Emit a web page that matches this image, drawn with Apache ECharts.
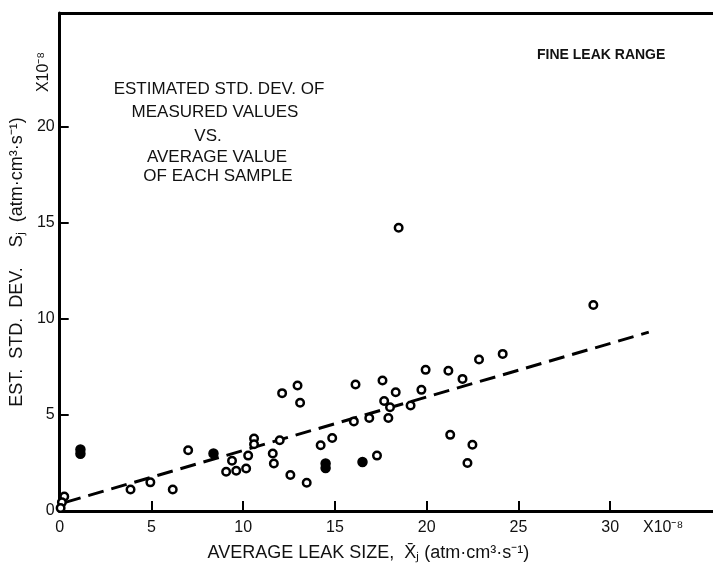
<!DOCTYPE html>
<html>
<head>
<meta charset="utf-8">
<script src="https://cdn.jsdelivr.net/npm/echarts@6/dist/echarts.min.js"></script>
<style>html,body{margin:0;padding:0;background:#fff}#c{width:713px;height:569px}</style>
</head>
<body>
<div id="c"></div>
<script>
// ---- data ----
var xTickValues = [5, 10, 15, 20, 25, 30];
var xLabelValues = [0, 5, 10, 15, 20, 25, 30];
var yTickValues = [5, 10, 15, 20];
var yLabelValues = [0, 5, 10, 15, 20];

var openX = [0.25, 0.12, 0.05, 3.86, 4.94, 6.16, 7.0, 9.07, 9.39, 9.62, 10.16, 10.27, 10.59, 10.59,
  12.12, 11.99, 11.61, 11.67, 12.57, 12.96, 13.1, 13.46, 14.22, 14.85, 16.03, 16.12,
  18.47, 29.08, 24.14, 22.85, 19.94, 21.18, 21.95, 19.71, 17.59, 18.31, 17.68, 18.0, 19.12,
  17.91, 16.87, 21.28, 22.49, 22.22, 17.29];
var openY = [0.75, 0.45, 0.15, 1.12, 1.49, 1.12, 3.16, 2.04, 2.61, 2.09, 2.21, 2.88, 3.77, 3.47,
  6.13, 3.68, 2.99, 2.47, 1.87, 6.53, 5.63, 1.47, 3.42, 3.8, 4.66, 6.58,
  14.73, 10.71, 8.17, 7.88, 7.34, 7.29, 6.87, 6.3, 6.79, 6.18, 5.72, 5.4, 5.49,
  4.84, 4.84, 3.96, 3.45, 2.5, 2.88];

var filledX = [1.13, 1.13, 8.38, 14.49, 14.49, 16.5];
var filledY = [3.2, 2.98, 2.99, 2.47, 2.23, 2.55];

var fitX = [0.3, 32.1];
var fitY = [0.45, 9.3];

function pairs(xs, ys) { return xs.map(function (x, i) { return [x, ys[i]]; }); }

var FONT = "'Liberation Sans', Arial, sans-serif";
var INK = '#111';

var chart = echarts.init(document.getElementById('c'), null, {renderer: 'canvas'});

var titleLines = [
  ['ESTIMATED STD. DEV. OF', 219, 89],
  ['MEASURED VALUES', 215, 112],
  ['VS.', 208, 136],
  ['AVERAGE VALUE', 217, 157],
  ['OF EACH SAMPLE', 218, 176]
];
var graphics = titleLines.map(function (l) {
  return {type: 'text', x: l[1], y: l[2], style: {text: l[0], font: '17px ' + FONT, fill: INK, align: 'center', verticalAlign: 'middle'}};
});
graphics.push({type: 'text', x: 537, y: 55, style: {text: 'FINE LEAK RANGE', font: 'bold 14px ' + FONT, fill: INK, align: 'left', verticalAlign: 'middle'}});
graphics.push({type: 'text', x: 44, y: 72, rotation: Math.PI / 2, style: {text: 'X10⁻⁸', font: '16px ' + FONT, fill: INK, align: 'center', verticalAlign: 'middle'}});
graphics.push({type: 'text', x: 643, y: 528, style: {text: 'X10⁻⁸', font: '16px ' + FONT, fill: INK, align: 'left', verticalAlign: 'middle'}});

var axisLineStyle = {color: '#000', width: 3};

chart.setOption({
  animation: false,
  backgroundColor: '#fff',
  grid: {left: 52, right: 0, top: 13, bottom: 58, containLabel: false},
  graphic: graphics,
  xAxis: [{
    type: 'value', min: 0, max: 35.6, interval: 5,
    axisLine: {show: true, onZero: false, lineStyle: axisLineStyle},
    axisTick: {show: true, inside: true, length: 10, lineStyle: {color: '#000', width: 2}, customValues: xTickValues},
    axisLabel: {show: true, margin: 9, fontSize: 16, fontFamily: FONT, color: INK, customValues: xLabelValues},
    splitLine: {show: false},
    name: 'AVERAGE LEAK SIZE,  X̄ⱼ (atm·cm³·s⁻¹)',
    nameLocation: 'middle', nameGap: 33,
    nameTextStyle: {fontSize: 18, fontFamily: FONT, color: INK, padding: [0, 36, 0, 0]}
  }, {
    type: 'value', min: 0, max: 35.6, position: 'top',
    axisLine: {show: true, onZero: false, lineStyle: axisLineStyle},
    axisTick: {show: false}, axisLabel: {show: false}, splitLine: {show: false}
  }],
  yAxis: [{
    type: 'value', min: 0, max: 25.9, interval: 5,
    axisLine: {show: true, onZero: false, lineStyle: axisLineStyle},
    axisTick: {show: true, inside: true, length: 9, lineStyle: {color: '#000', width: 2}, customValues: yTickValues},
    axisLabel: {show: true, margin: 5, fontSize: 16, fontFamily: FONT, color: INK, customValues: yLabelValues},
    splitLine: {show: false},
    name: 'EST.  STD.  DEV.    Sⱼ  (atm·cm³·s⁻¹)',
    nameLocation: 'middle', nameGap: 23, nameRotate: 90,
    nameTextStyle: {fontSize: 18, fontFamily: FONT, color: INK}
  }],
  series: [{
    type: 'line', data: pairs(fitX, fitY), symbol: 'none', silent: true, z: 1,
    lineStyle: {color: '#000', width: 3, type: [16, 8]}
  }, {
    type: 'scatter', data: pairs(openX, openY), symbol: 'circle', symbolSize: 7.5, z: 3,
    itemStyle: {color: '#fff', borderColor: '#000', borderWidth: 2.5, opacity: 1}
  }, {
    type: 'scatter', data: pairs(filledX, filledY), symbol: 'circle', symbolSize: 9, z: 3,
    itemStyle: {color: '#000', borderColor: '#000', borderWidth: 1.5, opacity: 1}
  }]
});
</script>
</body>
</html>
